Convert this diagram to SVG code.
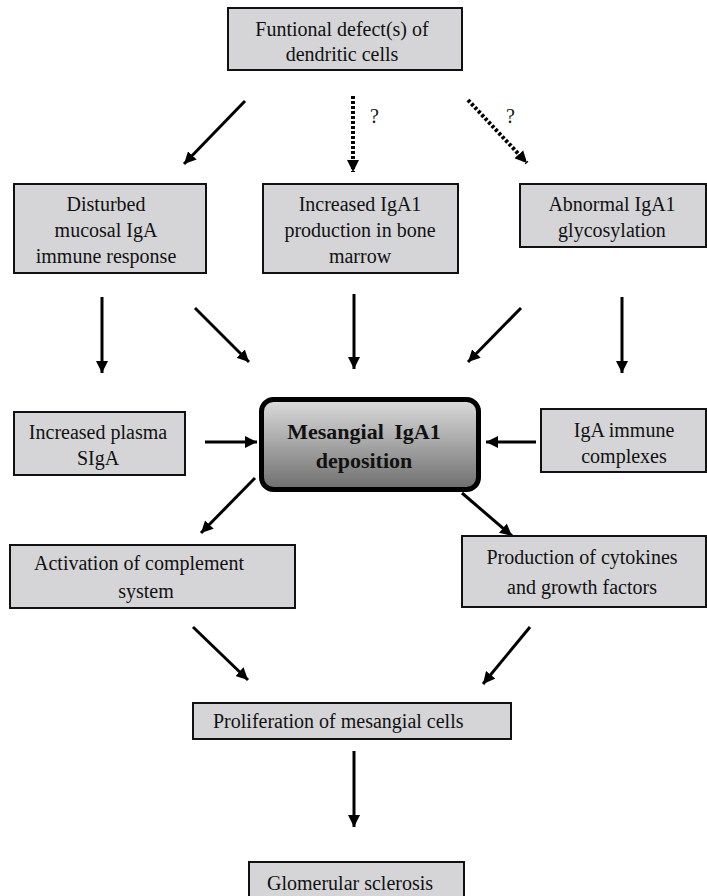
<svg xmlns="http://www.w3.org/2000/svg" width="707" height="896" viewBox="0 0 707 896">
<style>
.box{fill:#d5d5d7;stroke:#111;stroke-width:2}
.t{font-family:"Liberation Serif","Times New Roman",serif;font-size:20px;fill:#111}
.c{text-anchor:middle}
.b{font-weight:bold;font-size:22px}
.ln{stroke:#000;stroke-width:3;fill:none;marker-end:url(#ah)}
.dl{stroke:#000;stroke-width:4;fill:none;stroke-dasharray:3 2;marker-end:url(#ah)}
</style>
<defs>
<marker id="ah" markerUnits="userSpaceOnUse" markerWidth="14" markerHeight="12" refX="12" refY="6" orient="auto">
<path d="M0,0 L12,6 L0,12 Z" fill="#000"/>
</marker>
<linearGradient id="g" x1="0" y1="0" x2="0" y2="1">
<stop offset="0" stop-color="#dcdcdc"/>
<stop offset="1" stop-color="#6e6e6e"/>
</linearGradient>
</defs>
<rect width="707" height="896" fill="#fff"/>
<g id="connectors">
<line class="ln" x1="245" y1="101" x2="184" y2="164"/>
<line class="dl" x1="353" y1="96" x2="353" y2="172"/>
<line class="dl" x1="468" y1="100" x2="527" y2="163"/>
<line class="ln" x1="102" y1="297" x2="102" y2="373"/>
<line class="ln" x1="195" y1="308" x2="249" y2="362"/>
<line class="ln" x1="354" y1="294" x2="354" y2="369"/>
<line class="ln" x1="521" y1="308" x2="468" y2="362"/>
<line class="ln" x1="622" y1="297" x2="622" y2="373"/>
<line class="ln" x1="205" y1="442" x2="257" y2="442"/>
<line class="ln" x1="536" y1="442" x2="486" y2="442"/>
<line class="ln" x1="255" y1="478" x2="201" y2="533"/>
<line class="ln" x1="462" y1="493" x2="512" y2="536"/>
<line class="ln" x1="193" y1="627" x2="248" y2="680"/>
<line class="ln" x1="530" y1="627" x2="483" y2="684"/>
<line class="ln" x1="354" y1="751" x2="354" y2="827"/>
<text class="t" x="370" y="123" font-size="16">?</text>
<text class="t" x="506" y="123" font-size="16">?</text>
</g>
<g id="n-top">
<rect class="box" x="228" y="8" width="234" height="62"/>
<text class="t c" x="342" y="36">Funtional defect(s) of</text>
<text class="t c" x="342" y="61">dendritic cells</text>
</g>
<g id="n-disturbed">
<rect class="box" x="14" y="184" width="192" height="89"/>
<text class="t c" x="106" y="211">Disturbed</text>
<text class="t c" x="106" y="237">mucosal IgA</text>
<text class="t c" x="106" y="263">immune response</text>
</g>
<g id="n-increased">
<rect class="box" x="263" y="184" width="195" height="89"/>
<text class="t c" x="360" y="211">Increased IgA1</text>
<text class="t c" x="360" y="237">production in bone</text>
<text class="t c" x="360" y="263">marrow</text>
</g>
<g id="n-abnormal">
<rect class="box" x="520" y="184" width="186" height="63"/>
<text class="t c" x="612" y="211">Abnormal IgA1</text>
<text class="t c" x="612" y="237">glycosylation</text>
</g>
<g id="n-plasma">
<rect class="box" x="14" y="412" width="171" height="63"/>
<text class="t c" x="98" y="439">Increased plasma</text>
<text class="t c" x="98" y="465">SIgA</text>
</g>
<g id="n-center">
<rect x="261.5" y="399.5" width="217" height="90" rx="12" fill="url(#g)" stroke="#000" stroke-width="5"/>
<text class="t c b" x="364" y="439" word-spacing="5">Mesangial IgA1</text>
<text class="t c b" x="364" y="468">deposition</text>
</g>
<g id="n-complexes">
<rect class="box" x="541" y="409" width="165" height="63"/>
<text class="t c" x="624" y="437">IgA immune</text>
<text class="t c" x="624" y="463">complexes</text>
</g>
<g id="n-complement">
<rect class="box" x="10" y="545" width="285" height="63"/>
<text class="t" x="34" y="570">Activation of complement</text>
<text class="t c" x="146" y="598">system</text>
</g>
<g id="n-cytokines">
<rect class="box" x="462" y="536" width="244" height="71"/>
<text class="t c" x="582" y="564">Production of cytokines</text>
<text class="t c" x="582" y="594">and growth factors</text>
</g>
<g id="n-prolif">
<rect class="box" x="193" y="703" width="318" height="36"/>
<text class="t" x="213" y="728">Proliferation of mesangial cells</text>
</g>
<g id="n-glom">
<rect class="box" x="249" y="862" width="215" height="40"/>
<text class="t" x="267" y="890">Glomerular sclerosis</text>
</g>
</svg>
